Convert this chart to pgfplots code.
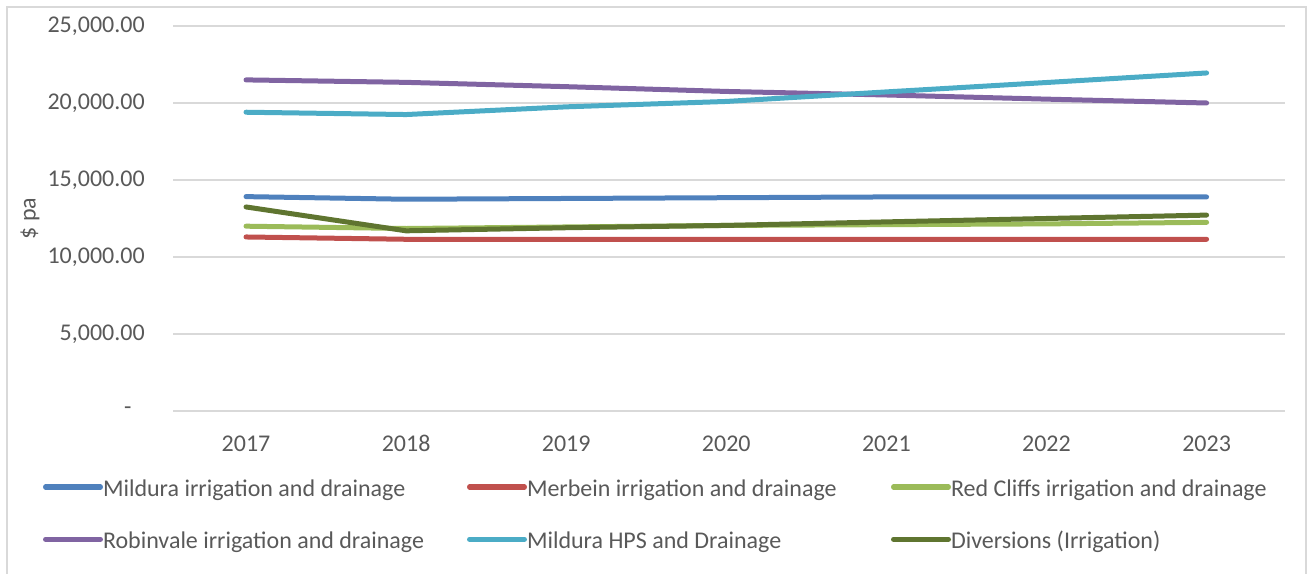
\documentclass[border=0pt]{standalone}
\usepackage{pgfplots}
\pgfplotsset{compat=1.18}
\usepackage{fontspec}
\setmainfont{Carlito}

\definecolor{labelgray}{HTML}{595959}
\definecolor{gridgray}{HTML}{D9D9D9}
\definecolor{cMildura}{HTML}{4F81BD}
\definecolor{cMerbein}{HTML}{C0504D}
\definecolor{cRedCliffs}{HTML}{9BBB59}
\definecolor{cRobinvale}{HTML}{8064A2}
\definecolor{cHPS}{HTML}{4BACC6}
\definecolor{cDiversions}{HTML}{5F7530}

\newcommand{\lfont}{\fontsize{18}{21.6}\selectfont}
\newcommand{\entry}[1]{\makebox[273pt][l]{#1\strut}}

\begin{document}
\begin{tikzpicture}
\begin{axis}[
  at={(129.75pt,122.25pt)}, anchor=south west,
  scale only axis, width=834pt, height=288.75pt,
  xmin=-0.456, xmax=6.49, ymin=0, ymax=25000,
  xtick={0,1,2,3,4,5,6},
  xticklabels={2017,2018,2019,2020,2021,2022,2023},
  ytick={0,5000,10000,15000,20000,25000},
  yticklabels={{-\hspace{10pt}\null},{5,000.00},{10,000.00},{15,000.00},{20,000.00},{25,000.00}},
  scaled y ticks=false,
  axis line style={draw=none},
  major tick length=0pt,
  ymajorgrids, grid style={color=gridgray, line width=1.1pt},
  tick label style={font=\lfont, text=labelgray},
  yticklabel style={inner sep=0pt, xshift=-21pt},
  xticklabel style={inner sep=0pt, anchor=base, yshift=-30.5pt},
  ylabel={\$ pa},
  ylabel style={at={(axis description cs:-0.1286,0.5)}, anchor=center, font=\lfont, text=labelgray},
  every axis plot/.append style={line width=3.75pt, line cap=round, line join=round},
  legend columns=3,
  legend style={at={(axis description cs:-0.1169,-0.1688)}, anchor=north west,
    draw=none, fill=none, inner sep=0pt, outer sep=0pt,
    font=\lfont, text=labelgray,
    /tikz/column sep=0pt, /tikz/row sep=22.6pt,
    nodes={inner sep=0pt}},
  legend image code/.code={\draw[#1, line width=4pt, line cap=round] (1pt,0pt) -- (42pt,0pt);},
]
% annual charge by district, $ per year
\addplot[color=cMildura] coordinates {(0,13920) (1,13750) (2,13800) (3,13850) (4,13900) (5,13900) (6,13900)};
\addlegendentry{\entry{Mildura irrigation and drainage}}
\addplot[color=cMerbein] coordinates {(0,11300) (1,11150) (2,11150) (3,11150) (4,11150) (5,11150) (6,11150)};
\addlegendentry{\entry{Merbein irrigation and drainage}}
\addplot[color=cRedCliffs] coordinates {(0,12000) (1,11850) (2,11950) (3,12050) (4,12100) (5,12150) (6,12250)};
\addlegendentry{\entry{Red Cliffs irrigation and drainage}}
\addplot[color=cRobinvale] coordinates {(0,21500) (1,21340) (2,21060) (3,20750) (4,20520) (5,20250) (6,20000)};
\addlegendentry{\entry{Robinvale irrigation and drainage}}
\addplot[color=cHPS] coordinates {(0,19400) (1,19250) (2,19750) (3,20100) (4,20720) (5,21330) (6,21950)};
\addlegendentry{\entry{Mildura HPS and Drainage}}
\addplot[color=cDiversions] coordinates {(0,13250) (1,11700) (2,11900) (3,12050) (4,12280) (5,12500) (6,12720)};
\addlegendentry{\entry{Diversions (Irrigation)}}
\end{axis}
% chart border
\draw[gridgray, line width=1.1pt] (5.25pt,-2pt) -- (5.25pt,425.25pt) -- (979.5pt,425.25pt) -- (979.5pt,-2pt);
\pgfresetboundingbox
\useasboundingbox (0pt,0pt) rectangle (987pt,430.5pt);
\end{tikzpicture}
\end{document}
